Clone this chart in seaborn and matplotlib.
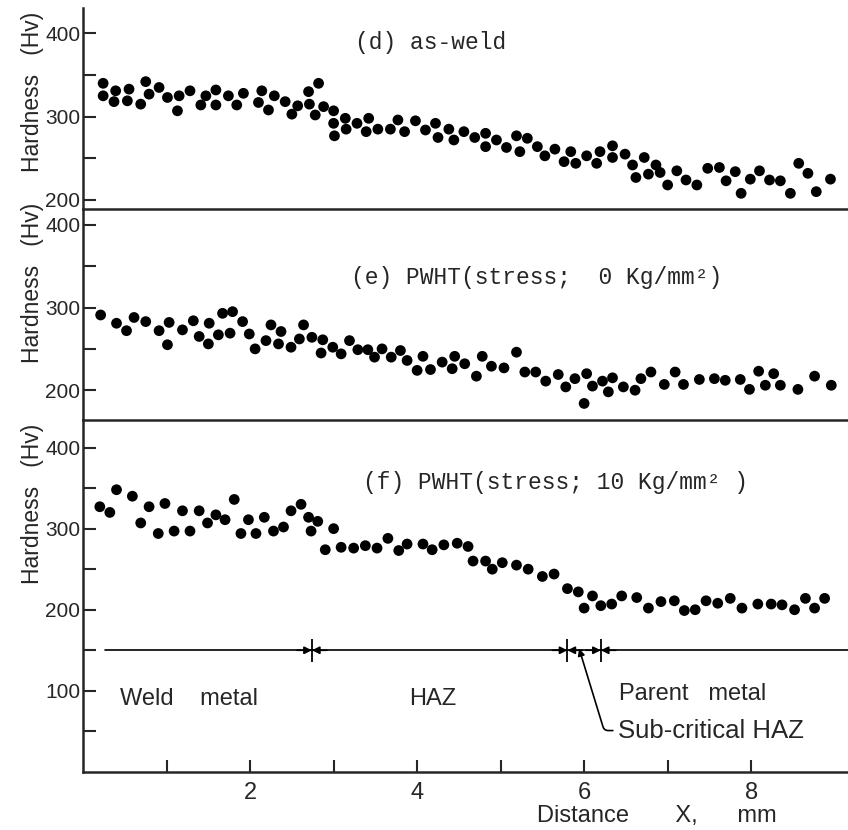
import matplotlib
matplotlib.use("Agg")
import matplotlib.pyplot as plt
import pandas as pd
import seaborn as sns
from matplotlib import font_manager
from matplotlib.transforms import blended_transform_factory

# (d) as-weld
d_x = [0.24, 0.24, 0.37, 0.39, 0.53, 0.55, 0.69, 0.75, 0.79, 0.91,
       1.01, 1.13, 1.15, 1.28, 1.41, 1.47, 1.59, 1.59, 1.74, 1.84,
       1.92, 2.10, 2.14, 2.22, 2.29, 2.42, 2.50, 2.57, 2.70, 2.71,
       2.78, 2.82, 2.88, 3.00, 3.00, 3.01, 3.14, 3.15, 3.28, 3.39,
       3.42, 3.53, 3.68, 3.77, 3.85, 3.98, 4.10, 4.22, 4.25, 4.38,
       4.44, 4.56, 4.69, 4.82, 4.82, 4.95, 5.07, 5.19, 5.23, 5.32,
       5.44, 5.53, 5.65, 5.76, 5.84, 5.90, 6.03, 6.15, 6.19, 6.34,
       6.34, 6.49, 6.58, 6.62, 6.72, 6.77, 6.86, 6.91, 7.00, 7.11,
       7.22, 7.35, 7.48, 7.62, 7.70, 7.81, 7.88, 7.99, 8.10, 8.22,
       8.35, 8.47, 8.57, 8.68, 8.78, 8.95]
d_hv = [340, 325, 318, 331, 319, 333, 315, 342, 327, 335,
        323, 307, 325, 331, 314, 325, 332, 314, 325, 314,
        328, 317, 331, 308, 325, 318, 303, 313, 330, 315,
        302, 340, 312, 307, 292, 277, 298, 285, 292, 282,
        298, 285, 285, 296, 282, 295, 284, 292, 275, 285,
        272, 282, 275, 280, 264, 272, 263, 277, 258, 274,
        264, 253, 261, 246, 258, 244, 253, 244, 258, 265,
        251, 255, 242, 227, 251, 231, 242, 233, 218, 235,
        224, 218, 238, 239, 223, 234, 208, 225, 235, 224,
        223, 208, 244, 232, 210, 225]

# (e) PWHT, stress 0 kg/mm2
e_x = [0.21, 0.40, 0.52, 0.61, 0.75, 0.91, 1.01, 1.03, 1.19, 1.32,
       1.39, 1.50, 1.51, 1.62, 1.67, 1.76, 1.79, 1.91, 1.99, 2.06,
       2.19, 2.25, 2.34, 2.37, 2.49, 2.59, 2.64, 2.74, 2.85, 2.87,
       2.99, 3.09, 3.19, 3.29, 3.41, 3.49, 3.58, 3.69, 3.80, 3.88,
       4.00, 4.07, 4.16, 4.30, 4.42, 4.45, 4.57, 4.71, 4.78, 4.89,
       5.04, 5.19, 5.29, 5.42, 5.54, 5.69, 5.78, 5.89, 6.00, 6.03,
       6.10, 6.22, 6.29, 6.34, 6.47, 6.61, 6.68, 6.80, 6.96, 7.09,
       7.19, 7.38, 7.56, 7.69, 7.87, 7.98, 8.09, 8.17, 8.27, 8.35,
       8.56, 8.76, 8.96]
e_hv = [291, 281, 272, 288, 283, 272, 255, 282, 273, 284,
        265, 256, 281, 267, 293, 269, 295, 283, 268, 250,
        260, 279, 256, 271, 252, 262, 279, 264, 245, 261,
        252, 244, 260, 249, 249, 240, 250, 240, 248, 236,
        224, 241, 225, 234, 226, 241, 232, 217, 241, 229,
        227, 246, 222, 222, 211, 219, 204, 214, 184, 220,
        205, 211, 198, 215, 204, 200, 214, 222, 207, 222,
        207, 213, 214, 212, 213, 201, 223, 206, 220, 206,
        201, 217, 206]

# (f) PWHT, stress 10 kg/mm2
f_x = [0.20, 0.32, 0.40, 0.59, 0.69, 0.79, 0.90, 0.98, 1.09, 1.19,
       1.28, 1.39, 1.49, 1.59, 1.70, 1.81, 1.89, 1.98, 2.07, 2.17,
       2.28, 2.40, 2.49, 2.61, 2.70, 2.73, 2.81, 2.90, 3.00, 3.09,
       3.24, 3.38, 3.52, 3.65, 3.78, 3.88, 4.07, 4.18, 4.32, 4.48,
       4.61, 4.67, 4.82, 4.90, 5.02, 5.19, 5.33, 5.50, 5.64, 5.80,
       5.93, 6.00, 6.10, 6.20, 6.33, 6.45, 6.63, 6.77, 6.92, 7.08,
       7.20, 7.33, 7.46, 7.60, 7.75, 7.89, 8.08, 8.24, 8.37, 8.52,
       8.65, 8.76, 8.88]
f_hv = [327, 320, 348, 340, 307, 327, 294, 331, 297, 322,
        297, 322, 307, 317, 311, 336, 294, 311, 294, 314,
        297, 302, 322, 330, 314, 297, 309, 274, 300, 277,
        276, 279, 276, 288, 273, 281, 281, 274, 280, 282,
        278, 260, 260, 250, 258, 255, 250, 241, 244, 226,
        222, 202, 217, 205, 207, 217, 215, 202, 210, 211,
        199, 200, 211, 208, 214, 202, 207, 207, 206, 200,
        214, 202, 214]

panel_titles = ["(d) as-weld",
                "(e) PWHT(stress;  0 Kg/mm²)",
                "(f) PWHT(stress; 10 Kg/mm² )"]

# zone scale drawn under panel (f)
zone_level = 150
zone_start = 0.26
zone_marks = [2.74, 5.80, 6.20]
zone_labels = [("Weld    metal", 0.44, 90, "left"),
               ("HAZ", 4.19, 90, "center"),
               ("Parent   metal", 6.42, 96, "left")]


def pick_font(names):
    for name in names:
        try:
            font_manager.findfont(font_manager.FontProperties(family=name),
                                  fallback_to_default=False)
            return name
        except ValueError:
            continue
    return "DejaVu Sans"


sns.set_style("ticks")
sans = pick_font(["Liberation Sans", "DejaVu Sans"])
mono = pick_font(["Liberation Mono", "DejaVu Sans Mono"])
plt.rcParams["font.family"] = [sans, "DejaVu Sans"]

fig = plt.figure(figsize=(8.48, 8.30), dpi=100)
ax_d = fig.add_axes([0.098, 0.748, 0.902, 0.242])
ax_e = fig.add_axes([0.098, 0.494, 0.902, 0.254])
ax_f = fig.add_axes([0.098, 0.070, 0.902, 0.424])

panels = [
    (ax_d, d_x, d_hv, (189, 430), [200, 250, 300, 350, 400], (4.16, 389)),
    (ax_e, e_x, e_hv, (164, 419), [200, 250, 300, 350, 400], (5.43, 336)),
    (ax_f, f_x, f_hv, (0, 434), [50, 100, 150, 200, 250, 300, 350, 400], (5.66, 357)),
]

for (ax, xs, hv, ylim, yticks, title_pos), title in zip(panels, panel_titles):
    df = pd.DataFrame({"distance": xs, "hardness": hv})
    sns.scatterplot(data=df, x="distance", y="hardness", ax=ax,
                    color="black", s=60, edgecolor="none", linewidth=0,
                    legend=False)
    ax.set_xlim(0, 9.16)
    ax.set_ylim(*ylim)
    ax.set_facecolor("none")
    for side in ("top", "right"):
        ax.spines[side].set_visible(False)
    for side in ("left", "bottom"):
        ax.spines[side].set_linewidth(1.8)
    ax.set_yticks(yticks)
    ax.set_yticklabels([str(t) if t % 100 == 0 else "" for t in yticks])
    ax.tick_params(axis="y", direction="in", length=9, width=1.5, pad=2,
                   labelsize=15)
    ax.set_xlabel("")
    ax.set_ylabel("Hardness   (Hv)", fontsize=16.5)
    ax.yaxis.set_label_coords(-0.051, 330,
                              transform=blended_transform_factory(ax.transAxes, ax.transData))
    ax.text(*title_pos, title, family=mono, fontsize=16.5,
            ha="center", va="center")

for ax in (ax_d, ax_e):
    ax.set_xticks([])

ax_f.set_xticks(range(1, 9))
ax_f.set_xticklabels(["", "2", "", "4", "", "6", "", "8"])
ax_f.tick_params(axis="x", direction="in", length=9, width=1.5, pad=7,
                 labelsize=17)
ax_f.set_xlabel("Distance       X,      mm", fontsize=17)
ax_f.xaxis.set_label_coords(0.750, -0.094)

# zone scale
ax_f.plot([zone_start, 9.16], [zone_level, zone_level], color="black", lw=1.2)
ax_f.vlines(zone_marks, zone_level - 14, zone_level + 14, color="black", lw=1.3)
for mark in zone_marks:
    for side in (-1, 1):
        ax_f.annotate("", xy=(mark, zone_level),
                      xytext=(mark + side * 0.18, zone_level),
                      arrowprops=dict(arrowstyle="-|>", color="black", lw=1.2,
                                      mutation_scale=11, shrinkA=0, shrinkB=0))
for label, lx, ly, ha in zone_labels:
    ax_f.text(lx, ly, label, fontsize=17, ha=ha, va="center")

ax_f.annotate("Sub-critical HAZ", xy=(5.94, zone_level + 2), xytext=(6.40, 51),
              fontsize=18.5, ha="left", va="center",
              arrowprops=dict(arrowstyle="-|>", color="black", lw=1.2,
                              mutation_scale=10, shrinkA=1, shrinkB=0,
                              relpos=(0, 0.5),
                              connectionstyle="angle,angleA=0,angleB=107,rad=4"))

fig.savefig("out.png", dpi=100, facecolor="white")
